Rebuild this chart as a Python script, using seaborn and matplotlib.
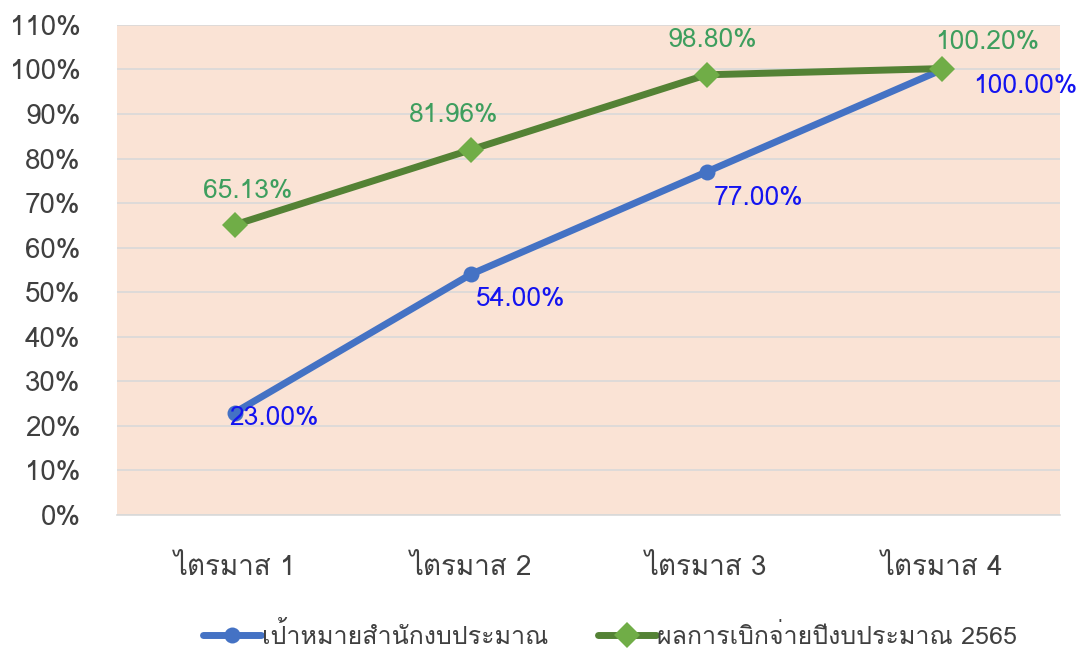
import matplotlib
matplotlib.use('Agg')
import matplotlib.pyplot as plt
from matplotlib import font_manager
from matplotlib.ft2font import FT2Font
import seaborn as sns
import pandas as pd

# data
quarters = ['ไตรมาส 1', 'ไตรมาส 2', 'ไตรมาส 3', 'ไตรมาส 4']
target_pct = [23.00, 54.00, 77.00, 100.00]
actual_pct = [65.13, 81.96, 98.80, 100.20]
target_name = 'เป้าหมายสำนักงบประมาณ'
actual_name = 'ผลการเบิกจ่ายปีงบประมาณ 2565'

# label offsets (points) as placed in the original
target_offsets = [(-4, -4), (4, -18), (5, -19), (22, -12)]
actual_offsets = [(9, 24), (-12, 25), (4, 25), (32, 19)]


def find_thai_family():
    # look for any installed font that has Thai glyphs
    for f in font_manager.fontManager.ttflist:
        try:
            cmap = FT2Font(f.fname).get_charmap()
        except Exception:
            continue
        if 0x0E44 in cmap and 0x0E21 in cmap:
            return f.name
    return None


sns.set_style('white')
thai = find_thai_family()
families = [thai, 'DejaVu Sans'] if thai else ['DejaVu Sans']
plt.rcParams['font.family'] = families

df = pd.DataFrame({'value': target_pct + actual_pct,
                   'series': [target_name] * 4 + [actual_name] * 4})
df['x'] = list(range(4)) * 2

fig = plt.figure(figsize=(10.82, 6.5), dpi=100)
ax = fig.add_axes([0.108, 0.2077, 0.872, 0.754])
ax.set_facecolor('#FAE3D5')

sns.lineplot(data=df[df['series'] == target_name], x='x', y='value',
             color='#4472C4', linewidth=5, marker='o', markersize=11.5,
             markeredgewidth=0, ax=ax, label=target_name)
sns.lineplot(data=df[df['series'] == actual_name], x='x', y='value',
             color='#548235', linewidth=5, marker='D', markersize=13,
             markerfacecolor='#70AD47', markeredgewidth=0, ax=ax,
             label=actual_name)

# data labels
for i, v in enumerate(target_pct):
    ax.annotate(f'{v:.2f}%', (i, v), xytext=target_offsets[i],
                textcoords='offset points', ha='left', va='center',
                color='#1414F0', fontsize=19)
for i, v in enumerate(actual_pct):
    ax.annotate(f'{v:.2f}%', (i, v), xytext=actual_offsets[i],
                textcoords='offset points', ha='center', va='center',
                color='#3E9E5E', fontsize=19)

ax.set_xlim(-0.5, 3.5)
ax.set_ylim(0, 110)
ax.set_xticks(range(4))
ax.set_xticklabels(quarters)
ax.set_yticks(range(0, 111, 10))
ax.set_yticklabels([f'{t}%' for t in range(0, 111, 10)])
ax.tick_params(axis='x', length=0, pad=29, labelsize=20, colors='#404040')
ax.tick_params(axis='y', length=0, pad=26, labelsize=20, colors='#404040')
ax.grid(axis='y', color='#D9D9D9', linewidth=1.2)
ax.set_axisbelow(True)
ax.set_xlabel('')
ax.set_ylabel('')
for side in ['top', 'right', 'left']:
    ax.spines[side].set_visible(False)
ax.spines['bottom'].set_color('#D9D9D9')
ax.spines['bottom'].set_linewidth(1.2)

ax.legend(loc='center', bbox_to_anchor=(0.523, -0.245), ncol=2,
          frameon=False, fontsize=18, handlelength=2.3, columnspacing=2.0,
          handletextpad=0.05, labelcolor='#404040')

fig.savefig('out.png', dpi=100)
